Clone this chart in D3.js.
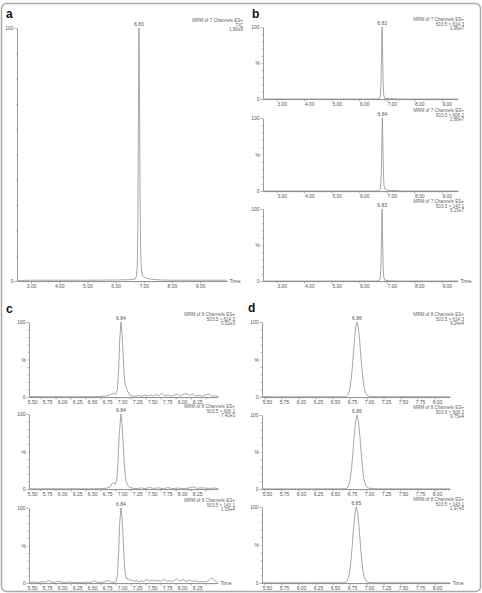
<!DOCTYPE html>
<html>
<head>
<meta charset="utf-8">
<script src="https://cdn.jsdelivr.net/npm/d3@7"></script>
<style>
body { margin: 0; background: #fff; }
text { font-family: "Liberation Sans", Arial, sans-serif; }
</style>
</head>
<body>
<svg width="482" height="593"></svg>
<script>
// ---- data: [time (min), relative intensity (%)] ----
var traceA = [[2.50,0.2],[3.00,0.3],[4.00,0.3],[5.00,0.3],[6.00,0.4],[6.50,0.5],[6.70,0.8],[6.74,2],[6.77,6],[6.79,22],[6.81,65],[6.83,100],[6.85,72],[6.87,32],[6.89,11],[6.92,4],[6.96,2],[7.05,1.2],[7.20,0.8],[7.40,0.6],[7.60,0.4],[8.00,0.3],[9.00,0.3],[9.95,0.3]];
var traceB1 = [[2.50,0],[6.60,0],[6.72,0.5],[6.76,3],[6.79,20],[6.81,62],[6.83,100],[6.85,60],[6.87,20],[6.89,5],[6.93,1],[7.10,0.5],[7.50,0],[9.59,0]];
var traceB2 = [[2.50,0],[6.60,0],[6.72,0.5],[6.77,3],[6.80,22],[6.82,65],[6.84,100],[6.86,62],[6.88,24],[6.90,7],[6.94,2],[7.05,1],[7.30,0.5],[7.60,0],[9.59,0]];
var traceB3 = [[2.50,0],[6.60,0],[6.72,0.4],[6.76,3],[6.79,20],[6.81,62],[6.83,100],[6.85,58],[6.87,19],[6.89,5],[6.93,1],[7.10,0.3],[7.50,0],[9.59,0]];

var traceC1 = [[5.31,0.5],[5.40,0.8],[5.50,0.3],[5.60,0.6],[5.70,0.2],[5.80,0.7],[5.90,0.3],[6.00,0.5],[6.10,0.2],[6.20,0.6],[6.30,0.3],[6.40,0.5],[6.50,0.8],[6.58,1.2],[6.64,2],[6.69,4],[6.72,5],[6.75,3.5],[6.78,10],[6.80,35],[6.82,78],[6.84,100],[6.86,82],[6.88,48],[6.90,22],[6.92,14],[6.95,8],[6.98,3],[7.02,1.5],[7.08,1],[7.14,2],[7.19,0.8],[7.24,2.5],[7.29,1],[7.34,3],[7.38,1.2],[7.42,3.5],[7.47,1.5],[7.52,5],[7.57,1.2],[7.62,2.5],[7.67,1],[7.72,2],[7.77,4],[7.82,1.5],[7.88,3.5],[7.94,4.5],[7.98,2],[8.03,4],[8.08,1.5],[8.14,2],[8.20,1],[8.25,3],[8.31,4],[8.36,1],[8.42,1.5],[8.46,0.8]];
var traceC2 = [[5.31,0.3],[5.50,0.2],[5.70,0.4],[5.90,0.2],[6.10,0.4],[6.30,0.2],[6.50,0.5],[6.60,1],[6.66,3],[6.69,7],[6.71,9],[6.74,6],[6.77,12],[6.79,35],[6.81,72],[6.84,100],[6.86,85],[6.88,55],[6.90,28],[6.92,12],[6.95,5],[6.99,2],[7.04,1],[7.12,0.5],[7.18,1.5],[7.24,0.5],[7.32,2],[7.38,0.8],[7.46,1.5],[7.55,0.5],[7.62,1.8],[7.70,0.6],[7.80,1.2],[7.90,0.5],[7.98,1.5],[8.04,3],[8.10,1],[8.20,1.5],[8.30,0.8],[8.40,1.2],[8.46,0.5]];
var traceC3 = [[5.31,0.5],[5.38,1.5],[5.45,0.5],[5.52,1.8],[5.58,1],[5.63,3.5],[5.68,1.2],[5.74,0.8],[5.80,2.5],[5.86,1],[5.92,0.6],[5.98,1.5],[6.05,0.5],[6.12,1],[6.20,0.4],[6.28,1.2],[6.34,0.6],[6.38,3],[6.43,1],[6.50,0.8],[6.56,1.5],[6.63,3.5],[6.68,1],[6.72,0.8],[6.76,2],[6.78,10],[6.80,40],[6.82,82],[6.84,100],[6.86,85],[6.88,52],[6.90,22],[6.92,8],[6.94,5],[6.96,6],[6.99,3],[7.02,4],[7.06,2],[7.10,3.5],[7.14,1.5],[7.18,3],[7.22,2],[7.27,5],[7.32,2],[7.36,4],[7.41,2.5],[7.46,3.5],[7.50,2],[7.55,5],[7.60,2.5],[7.65,3],[7.71,2],[7.77,6],[7.82,2.5],[7.88,4.5],[7.93,2],[7.98,4],[8.03,2.5],[8.08,3],[8.13,1.5],[8.18,2],[8.24,1.5],[8.30,3],[8.35,7],[8.40,3],[8.45,1]];

var traceD1 = [[5.46,0.3],[5.55,0.6],[5.62,0.2],[5.80,0.3],[6.00,0.2],[6.20,0.3],[6.40,0.2],[6.55,0.3],[6.66,0.4],[6.70,0.6],[6.72,2],[6.74,5.6],[6.76,13.5],[6.78,28],[6.80,49],[6.82,73],[6.84,92],[6.86,100],[6.88,92],[6.90,74],[6.92,51],[6.94,30],[6.96,15],[6.98,7],[7.00,3],[7.03,1.2],[7.08,0.4],[7.40,0.3],[7.60,0.6],[7.70,0.3],[7.80,0.5],[8.23,0.2]];
var traceD2 = [[5.46,0.2],[5.80,0.2],[6.20,0.2],[6.55,0.3],[6.66,0.4],[6.70,0.6],[6.72,2],[6.74,5.6],[6.76,13.5],[6.78,28],[6.80,49],[6.82,73],[6.84,92],[6.86,100],[6.88,92],[6.90,74],[6.92,51],[6.94,30],[6.96,15],[6.98,7],[7.00,3],[7.03,1.2],[7.08,0.5],[7.20,0.3],[8.23,0.2]];
var traceD3 = [[5.46,0.2],[5.80,0.2],[6.20,0.2],[6.55,0.3],[6.65,0.4],[6.69,0.6],[6.71,2],[6.73,5.6],[6.75,13.5],[6.77,28],[6.79,49],[6.81,73],[6.83,92],[6.85,100],[6.87,92],[6.89,74],[6.91,51],[6.93,30],[6.95,15],[6.97,7],[6.99,3],[7.02,1.2],[7.07,0.5],[7.20,0.3],[8.23,0.2]];

// time windows and tick labels
var domainA = [2.5, 9.955], domainB = [2.5, 9.59], domainC = [5.307, 8.457], domainD = [5.463, 8.228];
var ticksAB = [3, 4, 5, 6, 7, 8, 9];
var ticksC = [5.5, 5.75, 6, 6.25, 6.5, 6.75, 7, 7.25, 7.5, 7.75, 8, 8.25];
var ticksD = [5.5, 5.75, 6, 6.25, 6.5, 6.75, 7, 7.25, 7.5, 7.75, 8];

// header texts and peak apex labels
var headersA = [["MRM of 7 Channels ES+", "TIC", "1.90e8"]];
var headersB = [["MRM of 7 Channels ES+", "503.5 > 614.3", "1.96e7"],
                ["MRM of 7 Channels ES+", "503.5 > 606.2", "2.88e7"],
                ["MRM of 7 Channels ES+", "503.5 > 143.1", "5.15e7"]];
var headersC = [["MRM of 8 Channels ES+", "503.5 > 614.3", "5.52e3"],
                ["MRM of 8 Channels ES+", "503.5 > 606.2", "7.42e3"],
                ["MRM of 8 Channels ES+", "503.5 > 143.1", "1.39e4"]];
var headersD = [["MRM of 8 Channels ES+", "503.5 > 614.3", "9.24e4"],
                ["MRM of 8 Channels ES+", "503.5 > 606.2", "9.75e4"],
                ["MRM of 8 Channels ES+", "503.5 > 143.1", "1.97e5"]];
var apexA = [6.83], apexB = [6.83, 6.84, 6.83], apexC = [6.84, 6.84, 6.84], apexD = [6.86, 6.86, 6.85];

var svg = d3.select("svg");
var grey = "#808080";

// outer frame
svg.append("rect")
    .attr("x", 1.5).attr("y", 3.5).attr("width", 479).attr("height", 588)
    .attr("rx", 5).attr("fill", "none").attr("stroke", "#aaa").attr("stroke-width", 1.5);

// panel letters
var letters = [["a", 6, 18], ["b", 252, 18], ["c", 6, 313], ["d", 248, 312]];
svg.selectAll(".letter").data(letters).enter().append("text")
    .attr("class", "letter")
    .attr("x", function(d) { return d[1]; })
    .attr("y", function(d) { return d[2]; })
    .attr("font-size", 12).attr("font-weight", "bold").attr("fill", "#111")
    .text(function(d) { return d[0]; });

function drawPlot(p) {
    var x = d3.scaleLinear().domain(p.domain).range([p.left, p.right]),
        y = d3.scaleLinear().domain([0, 100]).range([p.bottom, p.top]);
    var g = svg.append("g");

    // minor x ticks
    g.append("g")
        .attr("transform", "translate(0," + p.bottom + ")")
        .call(d3.axisBottom(x).tickValues(p.minor).tickSize(1.5).tickFormat(""))
        .call(function(s) {
            s.select(".domain").remove();
            s.selectAll("line").attr("stroke", grey).attr("stroke-width", 0.5);
        });

    // major x ticks with labels (labels sit slightly off their tick, as printed)
    g.append("g")
        .attr("transform", "translate(0," + p.bottom + ")")
        .call(d3.axisBottom(x).tickValues(p.ticks).tickSize(2.5).tickPadding(1).tickSizeOuter(0)
            .tickFormat(d3.format(".2f")))
        .call(function(s) {
            s.select(".domain").attr("stroke", grey).attr("stroke-width", 0.8);
            s.selectAll("line").attr("stroke", grey).attr("stroke-width", 0.6);
            s.selectAll("text").attr("font-size", 5).attr("fill", "#555").attr("dx", p.labelShift)
                .attr("font-family", "'Liberation Sans', Arial, sans-serif");
        });

    // y axis
    g.append("g")
        .attr("transform", "translate(" + p.left + ",0)")
        .call(d3.axisLeft(y).tickValues(d3.range(10, 100, 10)).tickSize(1.5).tickFormat(""))
        .call(function(s) {
            s.select(".domain").remove();
            s.selectAll("line").attr("stroke", grey).attr("stroke-width", 0.5);
        });
    g.append("g")
        .attr("transform", "translate(" + p.left + ",0)")
        .call(d3.axisLeft(y).tickValues([0, 100]).tickSize(2.5).tickPadding(1).tickSizeOuter(0))
        .call(function(s) {
            s.select(".domain").attr("stroke", grey).attr("stroke-width", 0.8);
            s.selectAll("line").attr("stroke", grey).attr("stroke-width", 0.6);
            s.selectAll("text").attr("font-size", 5).attr("fill", "#555")
                .attr("font-family", "'Liberation Sans', Arial, sans-serif");
        });

    if (p.pct) {
        g.append("text")
            .attr("x", p.left - 3).attr("y", y(50) + 2)
            .attr("text-anchor", "end").attr("font-size", 5).attr("fill", "#555")
            .text("%");
    }

    // chromatogram trace
    var line = d3.line()
        .x(function(d) { return x(d[0]); })
        .y(function(d) { return y(d[1]); });
    g.append("path")
        .datum(p.trace)
        .attr("d", line)
        .attr("fill", "none").attr("stroke", "#8a8a8a").attr("stroke-width", 0.75);

    // apex label
    g.append("text")
        .attr("x", x(p.apex)).attr("y", y(100) - 2)
        .attr("text-anchor", "middle").attr("font-size", 5).attr("fill", "#555")
        .text(d3.format(".2f")(p.apex));

    // header, right aligned
    g.selectAll(".hdr").data(p.header).enter().append("text")
        .attr("x", p.hdrRight)
        .attr("y", function(d, i) { return p.top - 6 + i * 4.6; })
        .attr("text-anchor", "end").attr("font-size", 4.6).attr("fill", "#666")
        .text(function(d) { return d; });

    if (p.time) {
        g.append("text")
            .attr("x", p.right + 2.5).attr("y", p.bottom + 2)
            .attr("font-size", 5).attr("fill", "#555")
            .text("Time");
    }
}

var minorAB = d3.range(2.6, 9.95, 0.1), minorCD = d3.range(5.35, 8.45, 0.05);

// panel a
drawPlot({domain: domainA, left: 17, right: 227, top: 28, bottom: 281, ticks: ticksAB, minor: minorAB,
    labelShift: 0, trace: traceA, apex: apexA[0], header: headersA[0], hdrRight: 243, time: true, pct: false});

// panel b
var bTops = [27, 118, 209], bBottoms = [99, 191, 281], tracesB = [traceB1, traceB2, traceB3];
bTops.forEach(function(t, i) {
    drawPlot({domain: domainB, left: 263, right: 458, top: t, bottom: bBottoms[i], ticks: ticksAB,
        minor: minorAB.filter(function(v) { return v < domainB[1]; }), labelShift: 5,
        trace: tracesB[i], apex: apexB[i], header: headersB[i], hdrRight: 464, time: i === 2, pct: true});
});

// panel c
var cTops = [322, 414, 508], cBottoms = [397, 489, 583], tracesC = [traceC1, traceC2, traceC3];
cTops.forEach(function(t, i) {
    drawPlot({domain: domainC, left: 29, right: 218, top: t, bottom: cBottoms[i], ticks: ticksC, minor: minorCD,
        labelShift: -8.5, trace: tracesC[i], apex: apexC[i], header: headersC[i], hdrRight: 235, time: i === 2, pct: true});
});

// panel d
var dTops = [322, 415, 507], dBottoms = [397, 489, 583], tracesD = [traceD1, traceD2, traceD3];
dTops.forEach(function(t, i) {
    drawPlot({domain: domainD, left: 262, right: 450, top: t, bottom: dBottoms[i], ticks: ticksD,
        minor: minorCD.filter(function(v) { return v > domainD[0] && v < domainD[1]; }), labelShift: 2.5,
        trace: tracesD[i], apex: apexD[i], header: headersD[i], hdrRight: 464, time: i === 2, pct: true});
});
</script>
</body>
</html>
